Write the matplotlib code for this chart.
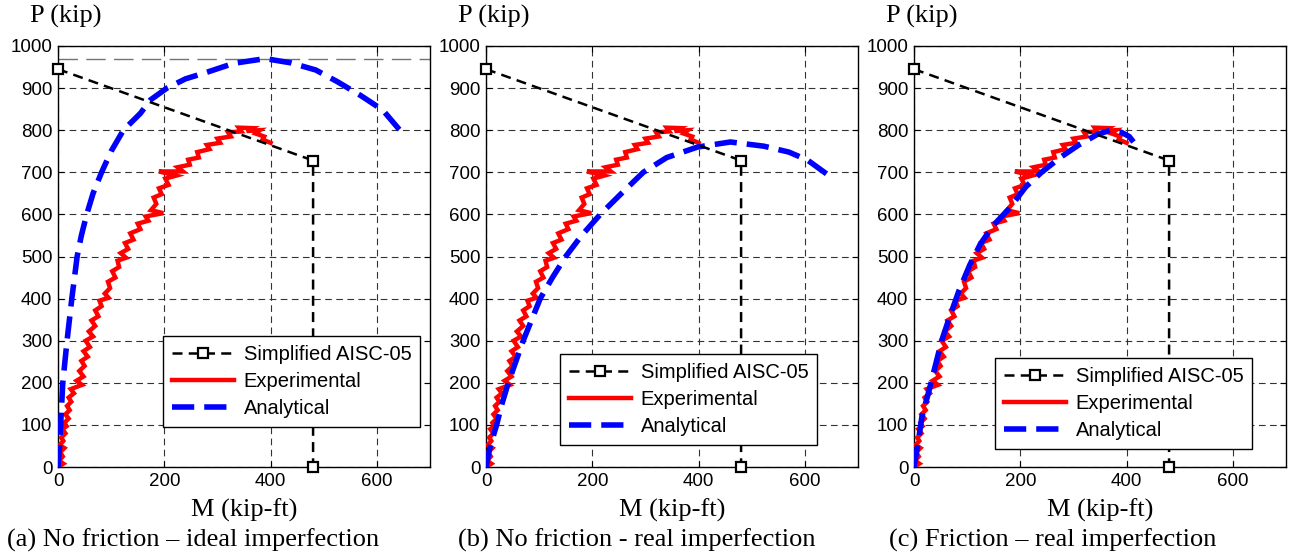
import numpy as np
import matplotlib.pyplot as plt

# Simplified AISC-05 interaction (same in all three panels)
aisc_m = [0, 480, 480]
aisc_p = [945, 728, 0]

# experimental test record (same in all three panels)
exp_m = [0, 10, 2, 9, 4, 12, 3, 10, 6, 14, 8, 16, 12, 20, 14, 22, 17, 25, 20, 30,
         24, 45, 35, 48, 40, 50, 44, 56, 48, 60, 52, 66, 58, 70, 63, 76, 70, 82, 78,
         95, 88, 98, 94, 108, 102, 115, 112, 128, 118, 132, 126, 142, 136, 155, 150,
         170, 165, 198, 175, 185, 180, 195, 190, 208, 202, 222, 190, 235, 225, 248,
         245, 265, 262, 285, 280, 305, 300, 325, 320, 345, 340, 365, 355, 380, 372,
         388, 385, 400]
exp_p = [0, 8, 15, 25, 35, 45, 52, 62, 70, 80, 90, 97, 105, 115, 125, 135, 145, 155,
         165, 175, 185, 195, 205, 215, 228, 240, 252, 262, 275, 285, 300, 310, 322,
         335, 348, 358, 372, 382, 395, 402, 412, 425, 440, 450, 465, 475, 490, 497,
         508, 518, 532, 540, 555, 565, 578, 585, 595, 603, 610, 625, 640, 648, 662,
         670, 685, 692, 702, 702, 712, 718, 730, 735, 748, 755, 765, 770, 780, 785,
         795, 797, 806, 805, 798, 800, 792, 785, 778, 770]

# analytical curves
ana_a_m = [0, 3, 5, 9, 17, 26, 36, 44, 54, 66, 82, 100, 123, 155, 174, 205, 240, 281,
           331, 390, 438, 485, 526, 570, 611, 650]
ana_a_p = [0, 50, 100, 200, 300, 400, 500, 550, 600, 650, 700, 750, 800, 840, 872, 900,
           922, 938, 959, 970, 960, 943, 915, 882, 848, 790]
ana_b_m = [0, 8, 20, 30, 42, 56, 70, 86, 102, 125, 150, 180, 215, 255, 296, 340, 398,
           460, 523, 570, 605, 650]
ana_b_p = [0, 50, 100, 150, 200, 250, 300, 350, 400, 450, 500, 550, 600, 650, 700, 735,
           760, 772, 762, 748, 729, 688]
ana_c_m = [0, 8, 15, 28, 40, 52, 68, 85, 105, 125, 150, 180, 210, 240, 275, 310, 345, 370,
           390, 405, 413]
ana_c_p = [0, 60, 120, 180, 240, 300, 360, 420, 480, 530, 575, 615, 665, 700, 735, 765, 790,
           800, 795, 785, 772]

peak_a = 970

captions = ['(a) No friction \u2013 ideal imperfection',
            '(b) No friction - real imperfection',
            '(c) Friction \u2013 real imperfection']
analyticals = [(ana_a_m, ana_a_p), (ana_b_m, ana_b_p), (ana_c_m, ana_c_p)]
lefts = [58, 486, 914]
# legend top-left corners in pixels
legend_px = [(163, 336), (560, 354), (995, 358)]

W, H = 1296, 554
AX_B, AX_W, AX_H = 87, 372, 421
fig = plt.figure(figsize=(W / 100, H / 100), dpi=100)
sans = 'Liberation Sans'
serif = 'Liberation Serif'

for i in range(3):
    ax = fig.add_axes([lefts[i] / W, AX_B / H, AX_W / W, AX_H / H])
    ax.set_xlim(0, 700)
    ax.set_ylim(0, 1000)
    ax.set_xticks([0, 200, 400, 600])
    ax.set_yticks(np.arange(0, 1001, 100))
    ax.grid(True, color='0.2', linestyle=(0, (6, 4)), linewidth=0.8)
    ax.tick_params(direction='in', top=True, right=True, labelsize=13.5, length=4, pad=4)
    for lab in ax.get_xticklabels() + ax.get_yticklabels():
        lab.set_family(sans)
    for s in ax.spines.values():
        s.set_linewidth(1.0)

    if i == 0:
        ax.axhline(peak_a, color='0.45', linestyle=(0, (14, 6)), linewidth=1.0, zorder=1)

    am, ap = analyticals[i]
    l1, = ax.plot(aisc_m, aisc_p, color='black', linestyle=(0, (4, 2.5)), linewidth=1.8,
                  marker='s', markersize=7, markerfacecolor='white', markeredgecolor='black',
                  markeredgewidth=1.6, clip_on=False, zorder=4, label='Simplified AISC-05')
    l2, = ax.plot(exp_m, exp_p, color='red', linewidth=3.2, solid_joinstyle='miter',
                  zorder=3, label='Experimental')
    l3, = ax.plot(am, ap, color='blue', linestyle=(0, (4, 1.8)), linewidth=4,
                  zorder=3, label='Analytical')

    lx, ly = legend_px[i]
    anchor = ((lx - lefts[i]) / AX_W, (H - AX_B - ly) / AX_H)
    leg = ax.legend(handles=[l1, l2, l3], loc='upper left', bbox_to_anchor=anchor,
                    borderaxespad=0, prop={'family': sans, 'size': 14.5}, fancybox=False,
                    framealpha=1, edgecolor='black', handlelength=3.1, handletextpad=0.45,
                    borderpad=0.45, labelspacing=0.4)
    leg.get_frame().set_linewidth(1.0)
    leg.set_zorder(5)

    ax.text(-28 / AX_W, 1 + 30 / AX_H, 'P (kip)', transform=ax.transAxes, family=serif,
            fontsize=19, ha='left', va='center')
    ax.text(0.5, -43 / AX_H, 'M (kip-ft)', transform=ax.transAxes, family=serif,
            fontsize=19, ha='center', va='center')

caption_x = [193, 637, 1053]
for i in range(3):
    fig.text(caption_x[i] / W, 1 - 540 / H, captions[i], family=serif, fontsize=19,
             ha='center', va='center')

fig.savefig('out.png', dpi=100)
